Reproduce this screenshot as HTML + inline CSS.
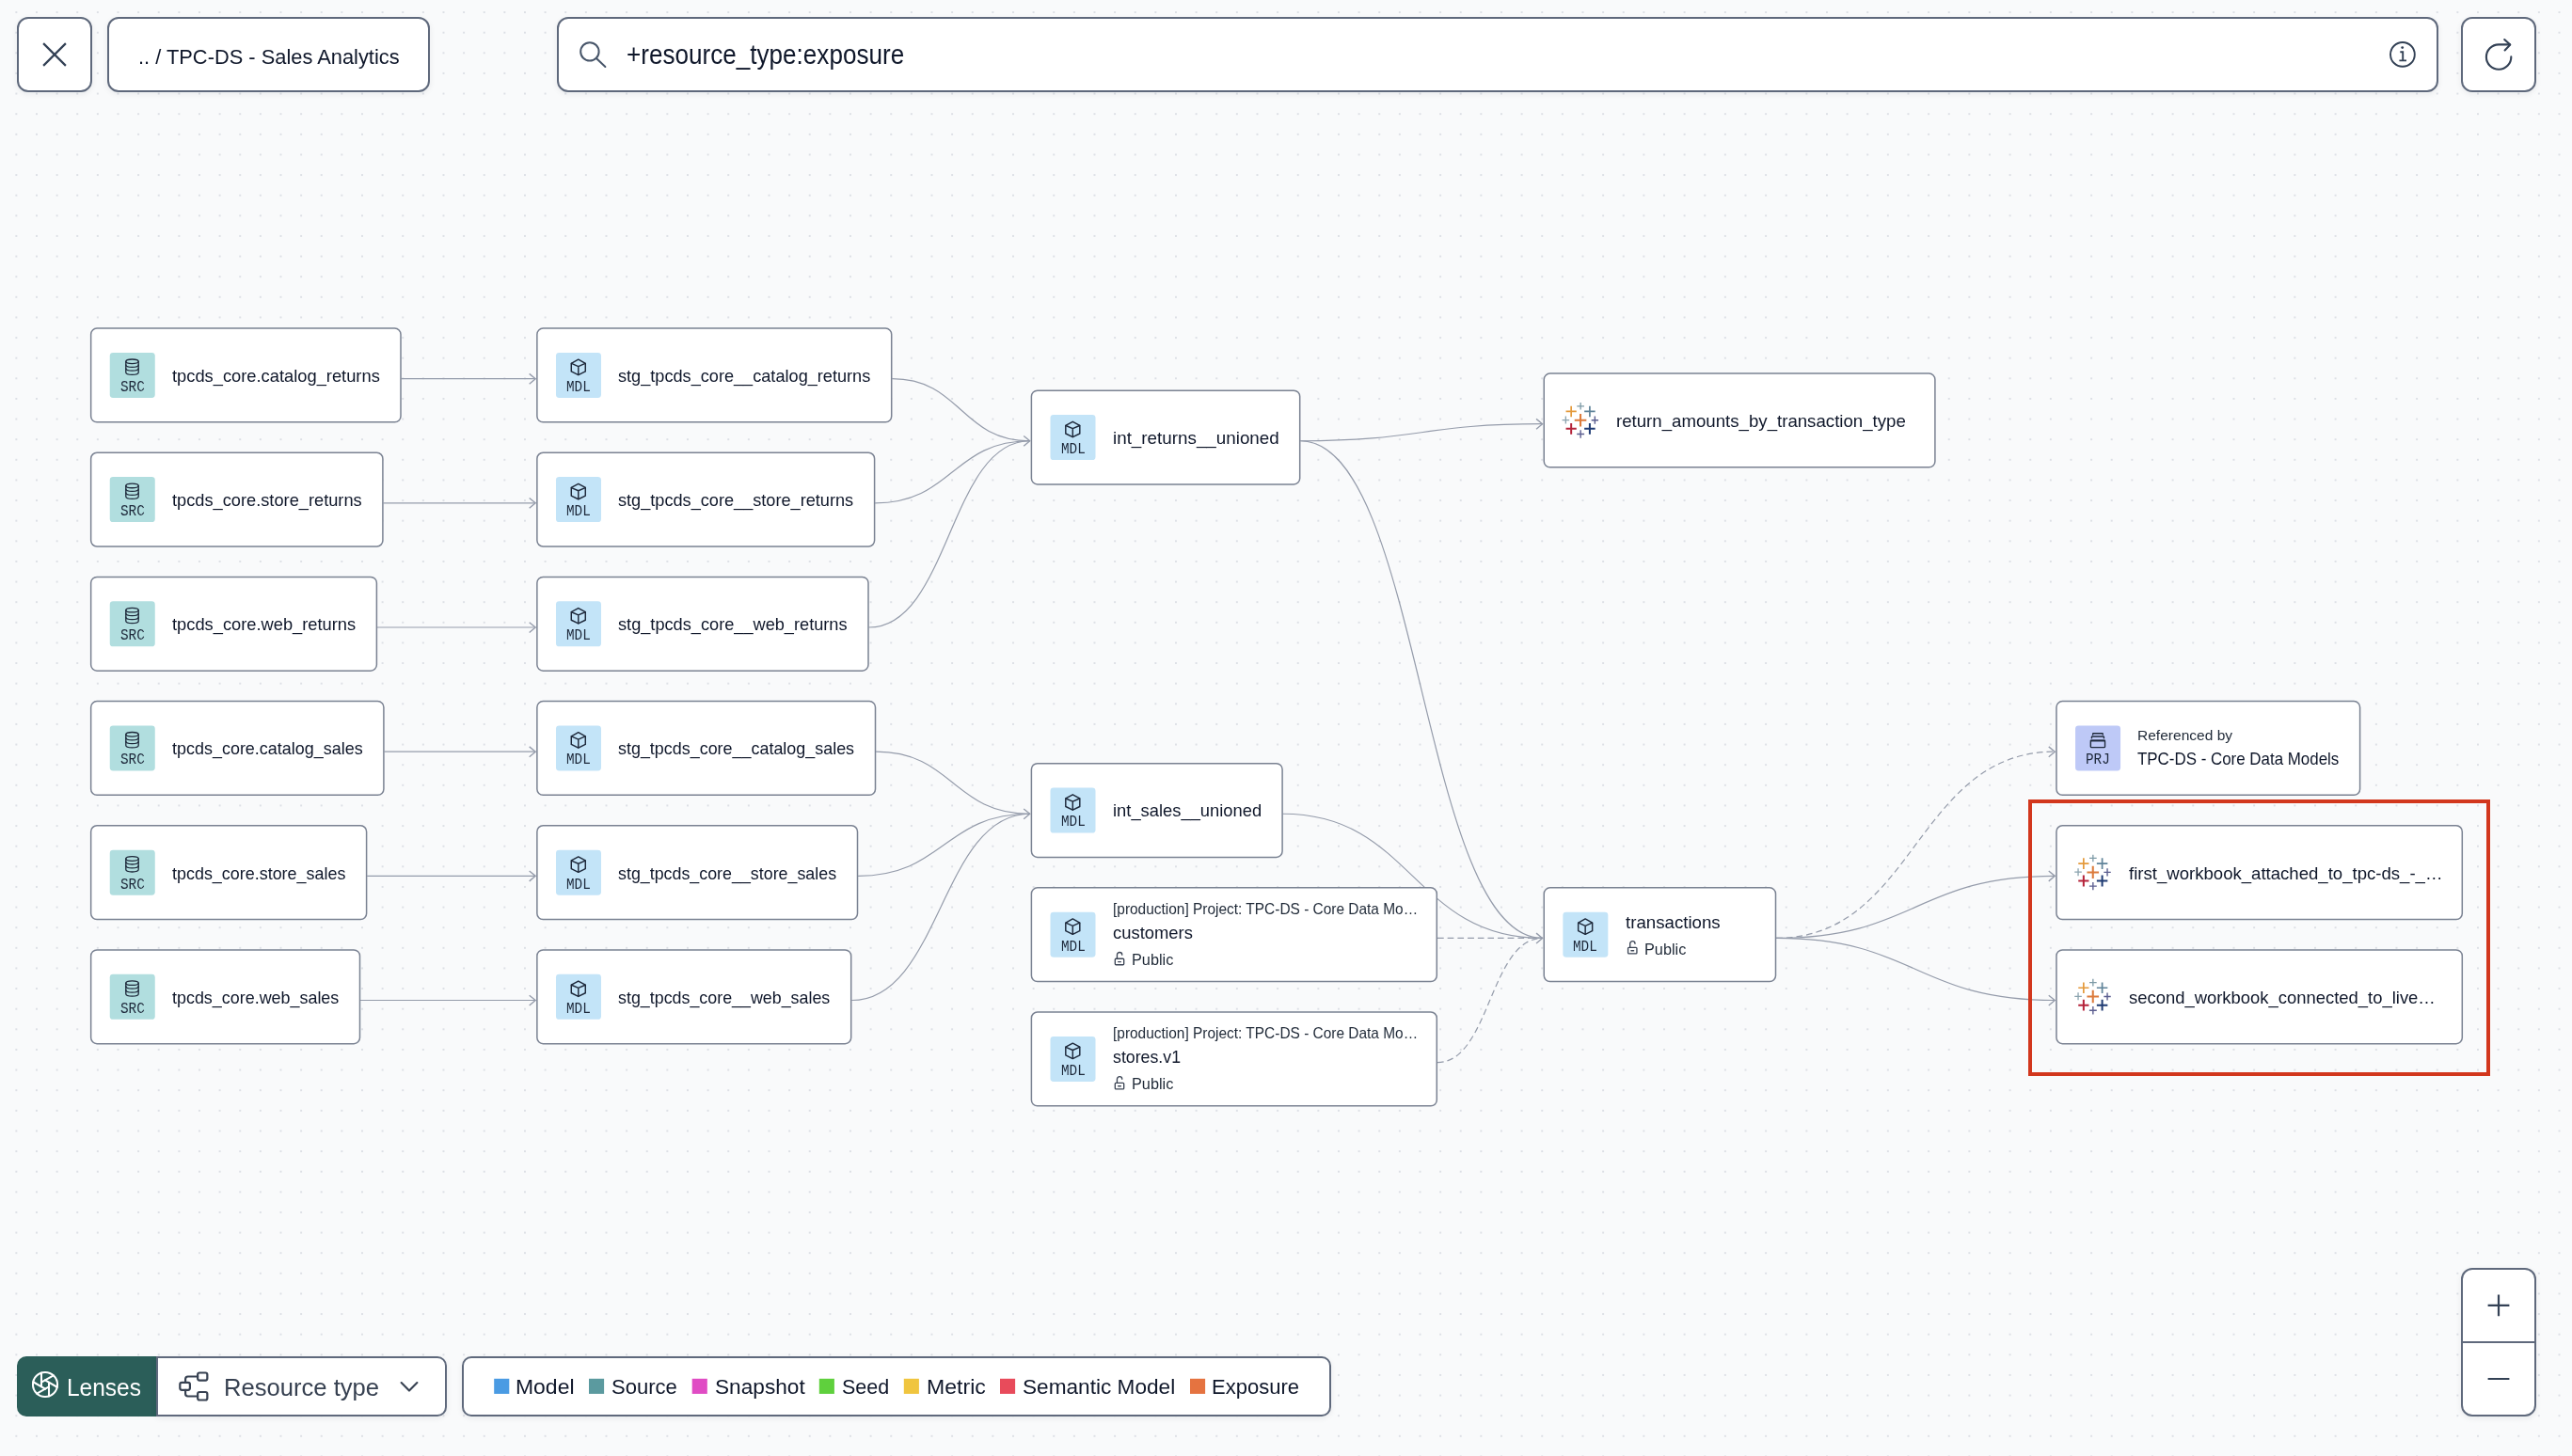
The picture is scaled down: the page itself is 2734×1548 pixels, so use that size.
<!DOCTYPE html><html lang="en"><head><meta charset="utf-8"><title>Lineage - TPC-DS - Sales Analytics</title><style>
html,body{margin:0;padding:0}
body{width:2734px;height:1548px;position:relative;overflow:hidden;background:#f9fafb;font-family:'Liberation Sans', sans-serif}
.full{position:absolute;left:0;top:0}
.layer{position:absolute;left:0;top:0;width:2734px;height:1548px;will-change:transform}
.t{position:absolute;white-space:nowrap;transform-origin:0 50%;display:block}
.tb{position:absolute;box-sizing:border-box;background:#fff;border:2px solid #5f697c;border-radius:12px;box-shadow:0 2px 6px rgba(15,23,42,.07)}
.rt{border-radius:0 10px 10px 0}
.lens{position:absolute;background:#2b5e59;border-radius:10px 0 0 10px}
</style></head><body><svg class="full" width="2734" height="1548" viewBox="0 0 2734 1548"><defs><pattern id="dots" x="6.547" y="2.248" width="21.625" height="21.625" patternUnits="userSpaceOnUse"><circle cx="10.812" cy="10.812" r="0.72" fill="#b4b9c4"/></pattern></defs><rect width="2734" height="1548" fill="url(#dots)"/><g fill="none" stroke="#959cab" stroke-width="1.2"><path d="M426.60 402.68 C497.89 402.68 497.89 402.68 569.18 402.68"/><path d="M407.50 534.85 C488.34 534.85 488.34 534.85 569.18 534.85"/><path d="M401.00 667.02 C485.09 667.02 485.09 667.02 569.18 667.02"/><path d="M408.50 799.19 C488.84 799.19 488.84 799.19 569.18 799.19"/><path d="M390.20 931.36 C479.69 931.36 479.69 931.36 569.18 931.36"/><path d="M383.10 1063.52 C476.14 1063.52 476.14 1063.52 569.18 1063.52"/><path d="M948.30 402.68 C1021.50 402.68 1021.50 468.76 1094.70 468.76"/><path d="M930.20 534.85 C1012.45 534.85 1012.45 468.76 1094.70 468.76"/><path d="M923.60 667.02 C1009.15 667.02 1009.15 468.76 1094.70 468.76"/><path d="M931.10 799.19 C1012.90 799.19 1012.90 865.27 1094.70 865.27"/><path d="M912.10 931.36 C1003.40 931.36 1003.40 865.27 1094.70 865.27"/><path d="M905.30 1063.52 C1000.00 1063.52 1000.00 865.27 1094.70 865.27"/><path d="M1382.30 468.76 C1510.92 468.76 1510.92 450.68 1639.55 450.68"/><path d="M1382.30 468.76 C1510.92 468.76 1510.92 997.44 1639.55 997.44"/><path d="M1363.70 865.27 C1501.62 865.27 1501.62 997.44 1639.55 997.44"/><path d="M1527.90 997.44 C1583.72 997.44 1583.72 997.44 1639.55 997.44" stroke-dasharray="6.7 4"/><path d="M1527.90 1129.61 C1583.72 1129.61 1583.72 997.44 1639.55 997.44" stroke-dasharray="6.7 4"/><path d="M1888.10 997.44 C2036.17 997.44 2036.17 799.19 2184.25 799.19" stroke-dasharray="6.7 4"/><path d="M1888.10 997.44 C2036.17 997.44 2036.17 931.36 2184.25 931.36"/><path d="M1888.10 997.44 C2036.17 997.44 2036.17 1063.52 2184.25 1063.52"/><path d="M562.68 397.38 L569.18 402.68 L562.68 408.18" stroke-width="1.35" stroke-linejoin="miter"/><path d="M562.68 529.55 L569.18 534.85 L562.68 540.35" stroke-width="1.35" stroke-linejoin="miter"/><path d="M562.68 661.72 L569.18 667.02 L562.68 672.52" stroke-width="1.35" stroke-linejoin="miter"/><path d="M562.68 793.89 L569.18 799.19 L562.68 804.69" stroke-width="1.35" stroke-linejoin="miter"/><path d="M562.68 926.06 L569.18 931.36 L562.68 936.86" stroke-width="1.35" stroke-linejoin="miter"/><path d="M562.68 1058.22 L569.18 1063.52 L562.68 1069.02" stroke-width="1.35" stroke-linejoin="miter"/><path d="M1088.20 463.46 L1094.70 468.76 L1088.20 474.26" stroke-width="1.35" stroke-linejoin="miter"/><path d="M1088.20 859.97 L1094.70 865.27 L1088.20 870.77" stroke-width="1.35" stroke-linejoin="miter"/><path d="M1633.05 445.38 L1639.55 450.68 L1633.05 456.18" stroke-width="1.35" stroke-linejoin="miter"/><path d="M1633.05 992.14 L1639.55 997.44 L1633.05 1002.94" stroke-width="1.35" stroke-linejoin="miter"/><path d="M2177.75 793.89 L2184.25 799.19 L2177.75 804.69" stroke-width="1.35" stroke-linejoin="miter"/><path d="M2177.75 926.06 L2184.25 931.36 L2177.75 936.86" stroke-width="1.35" stroke-linejoin="miter"/><path d="M2177.75 1058.22 L2184.25 1063.52 L2177.75 1069.02" stroke-width="1.35" stroke-linejoin="miter"/></g><rect x="96.65" y="349.10" width="329.35" height="99.75" rx="6.4" fill="#fff" stroke="#7a8292" stroke-width="1.5"/><rect x="116.75" y="374.95" width="48" height="48" rx="3.4" fill="#b1dedf"/><g transform="translate(140.50 390.40)"><g fill="none" stroke="#1e293b" stroke-width="1.3" stroke-linecap="round"><ellipse cx="0" cy="-6.1" rx="6.7" ry="2.3"/><path d="M-6.7 -6.1 V5.5 C-6.7 6.9 -3.7 7.9 0 7.9 C3.7 7.9 6.7 6.9 6.7 5.5 V-6.1"/><path d="M-6.7 -2.5 C-6.7 -1.1 -3.7 -0.1 0 -0.1 C3.7 -0.1 6.7 -1.1 6.7 -2.5"/><path d="M-6.7 1.4 C-6.7 2.8 -3.7 3.8 0 3.8 C3.7 3.8 6.7 2.8 6.7 1.4"/></g></g><rect x="96.65" y="481.27" width="310.25" height="99.75" rx="6.4" fill="#fff" stroke="#7a8292" stroke-width="1.5"/><rect x="116.75" y="507.12" width="48" height="48" rx="3.4" fill="#b1dedf"/><g transform="translate(140.50 522.57)"><g fill="none" stroke="#1e293b" stroke-width="1.3" stroke-linecap="round"><ellipse cx="0" cy="-6.1" rx="6.7" ry="2.3"/><path d="M-6.7 -6.1 V5.5 C-6.7 6.9 -3.7 7.9 0 7.9 C3.7 7.9 6.7 6.9 6.7 5.5 V-6.1"/><path d="M-6.7 -2.5 C-6.7 -1.1 -3.7 -0.1 0 -0.1 C3.7 -0.1 6.7 -1.1 6.7 -2.5"/><path d="M-6.7 1.4 C-6.7 2.8 -3.7 3.8 0 3.8 C3.7 3.8 6.7 2.8 6.7 1.4"/></g></g><rect x="96.65" y="613.44" width="303.75" height="99.75" rx="6.4" fill="#fff" stroke="#7a8292" stroke-width="1.5"/><rect x="116.75" y="639.29" width="48" height="48" rx="3.4" fill="#b1dedf"/><g transform="translate(140.50 654.74)"><g fill="none" stroke="#1e293b" stroke-width="1.3" stroke-linecap="round"><ellipse cx="0" cy="-6.1" rx="6.7" ry="2.3"/><path d="M-6.7 -6.1 V5.5 C-6.7 6.9 -3.7 7.9 0 7.9 C3.7 7.9 6.7 6.9 6.7 5.5 V-6.1"/><path d="M-6.7 -2.5 C-6.7 -1.1 -3.7 -0.1 0 -0.1 C3.7 -0.1 6.7 -1.1 6.7 -2.5"/><path d="M-6.7 1.4 C-6.7 2.8 -3.7 3.8 0 3.8 C3.7 3.8 6.7 2.8 6.7 1.4"/></g></g><rect x="96.65" y="745.61" width="311.25" height="99.75" rx="6.4" fill="#fff" stroke="#7a8292" stroke-width="1.5"/><rect x="116.75" y="771.46" width="48" height="48" rx="3.4" fill="#b1dedf"/><g transform="translate(140.50 786.91)"><g fill="none" stroke="#1e293b" stroke-width="1.3" stroke-linecap="round"><ellipse cx="0" cy="-6.1" rx="6.7" ry="2.3"/><path d="M-6.7 -6.1 V5.5 C-6.7 6.9 -3.7 7.9 0 7.9 C3.7 7.9 6.7 6.9 6.7 5.5 V-6.1"/><path d="M-6.7 -2.5 C-6.7 -1.1 -3.7 -0.1 0 -0.1 C3.7 -0.1 6.7 -1.1 6.7 -2.5"/><path d="M-6.7 1.4 C-6.7 2.8 -3.7 3.8 0 3.8 C3.7 3.8 6.7 2.8 6.7 1.4"/></g></g><rect x="96.65" y="877.78" width="292.95" height="99.75" rx="6.4" fill="#fff" stroke="#7a8292" stroke-width="1.5"/><rect x="116.75" y="903.63" width="48" height="48" rx="3.4" fill="#b1dedf"/><g transform="translate(140.50 919.08)"><g fill="none" stroke="#1e293b" stroke-width="1.3" stroke-linecap="round"><ellipse cx="0" cy="-6.1" rx="6.7" ry="2.3"/><path d="M-6.7 -6.1 V5.5 C-6.7 6.9 -3.7 7.9 0 7.9 C3.7 7.9 6.7 6.9 6.7 5.5 V-6.1"/><path d="M-6.7 -2.5 C-6.7 -1.1 -3.7 -0.1 0 -0.1 C3.7 -0.1 6.7 -1.1 6.7 -2.5"/><path d="M-6.7 1.4 C-6.7 2.8 -3.7 3.8 0 3.8 C3.7 3.8 6.7 2.8 6.7 1.4"/></g></g><rect x="96.65" y="1009.95" width="285.85" height="99.75" rx="6.4" fill="#fff" stroke="#7a8292" stroke-width="1.5"/><rect x="116.75" y="1035.80" width="48" height="48" rx="3.4" fill="#b1dedf"/><g transform="translate(140.50 1051.25)"><g fill="none" stroke="#1e293b" stroke-width="1.3" stroke-linecap="round"><ellipse cx="0" cy="-6.1" rx="6.7" ry="2.3"/><path d="M-6.7 -6.1 V5.5 C-6.7 6.9 -3.7 7.9 0 7.9 C3.7 7.9 6.7 6.9 6.7 5.5 V-6.1"/><path d="M-6.7 -2.5 C-6.7 -1.1 -3.7 -0.1 0 -0.1 C3.7 -0.1 6.7 -1.1 6.7 -2.5"/><path d="M-6.7 1.4 C-6.7 2.8 -3.7 3.8 0 3.8 C3.7 3.8 6.7 2.8 6.7 1.4"/></g></g><rect x="570.88" y="349.10" width="376.82" height="99.75" rx="6.4" fill="#fff" stroke="#7a8292" stroke-width="1.5"/><rect x="590.98" y="374.95" width="48" height="48" rx="3.4" fill="#c3e4f8"/><g transform="translate(614.78 390.40)"><g fill="none" stroke="#1e293b" stroke-width="1.45" stroke-linejoin="round" stroke-linecap="round"><path d="M0 -8.2 L7.5 -4.1 V4.5 L0 8.2 L-7.5 4.5 V-4.1 Z"/><path d="M-7.3 -4 L0 -0.8 L7.3 -4 M0 -0.8 V8"/></g></g><rect x="570.88" y="481.27" width="358.72" height="99.75" rx="6.4" fill="#fff" stroke="#7a8292" stroke-width="1.5"/><rect x="590.98" y="507.12" width="48" height="48" rx="3.4" fill="#c3e4f8"/><g transform="translate(614.78 522.57)"><g fill="none" stroke="#1e293b" stroke-width="1.45" stroke-linejoin="round" stroke-linecap="round"><path d="M0 -8.2 L7.5 -4.1 V4.5 L0 8.2 L-7.5 4.5 V-4.1 Z"/><path d="M-7.3 -4 L0 -0.8 L7.3 -4 M0 -0.8 V8"/></g></g><rect x="570.88" y="613.44" width="352.12" height="99.75" rx="6.4" fill="#fff" stroke="#7a8292" stroke-width="1.5"/><rect x="590.98" y="639.29" width="48" height="48" rx="3.4" fill="#c3e4f8"/><g transform="translate(614.78 654.74)"><g fill="none" stroke="#1e293b" stroke-width="1.45" stroke-linejoin="round" stroke-linecap="round"><path d="M0 -8.2 L7.5 -4.1 V4.5 L0 8.2 L-7.5 4.5 V-4.1 Z"/><path d="M-7.3 -4 L0 -0.8 L7.3 -4 M0 -0.8 V8"/></g></g><rect x="570.88" y="745.61" width="359.62" height="99.75" rx="6.4" fill="#fff" stroke="#7a8292" stroke-width="1.5"/><rect x="590.98" y="771.46" width="48" height="48" rx="3.4" fill="#c3e4f8"/><g transform="translate(614.78 786.91)"><g fill="none" stroke="#1e293b" stroke-width="1.45" stroke-linejoin="round" stroke-linecap="round"><path d="M0 -8.2 L7.5 -4.1 V4.5 L0 8.2 L-7.5 4.5 V-4.1 Z"/><path d="M-7.3 -4 L0 -0.8 L7.3 -4 M0 -0.8 V8"/></g></g><rect x="570.88" y="877.78" width="340.62" height="99.75" rx="6.4" fill="#fff" stroke="#7a8292" stroke-width="1.5"/><rect x="590.98" y="903.63" width="48" height="48" rx="3.4" fill="#c3e4f8"/><g transform="translate(614.78 919.08)"><g fill="none" stroke="#1e293b" stroke-width="1.45" stroke-linejoin="round" stroke-linecap="round"><path d="M0 -8.2 L7.5 -4.1 V4.5 L0 8.2 L-7.5 4.5 V-4.1 Z"/><path d="M-7.3 -4 L0 -0.8 L7.3 -4 M0 -0.8 V8"/></g></g><rect x="570.88" y="1009.95" width="333.82" height="99.75" rx="6.4" fill="#fff" stroke="#7a8292" stroke-width="1.5"/><rect x="590.98" y="1035.80" width="48" height="48" rx="3.4" fill="#c3e4f8"/><g transform="translate(614.78 1051.25)"><g fill="none" stroke="#1e293b" stroke-width="1.45" stroke-linejoin="round" stroke-linecap="round"><path d="M0 -8.2 L7.5 -4.1 V4.5 L0 8.2 L-7.5 4.5 V-4.1 Z"/><path d="M-7.3 -4 L0 -0.8 L7.3 -4 M0 -0.8 V8"/></g></g><rect x="1096.40" y="415.19" width="285.30" height="99.75" rx="6.4" fill="#fff" stroke="#7a8292" stroke-width="1.5"/><rect x="1116.50" y="441.04" width="48" height="48" rx="3.4" fill="#c3e4f8"/><g transform="translate(1140.30 456.49)"><g fill="none" stroke="#1e293b" stroke-width="1.45" stroke-linejoin="round" stroke-linecap="round"><path d="M0 -8.2 L7.5 -4.1 V4.5 L0 8.2 L-7.5 4.5 V-4.1 Z"/><path d="M-7.3 -4 L0 -0.8 L7.3 -4 M0 -0.8 V8"/></g></g><rect x="1096.40" y="811.69" width="266.70" height="99.75" rx="6.4" fill="#fff" stroke="#7a8292" stroke-width="1.5"/><rect x="1116.50" y="837.54" width="48" height="48" rx="3.4" fill="#c3e4f8"/><g transform="translate(1140.30 853.00)"><g fill="none" stroke="#1e293b" stroke-width="1.45" stroke-linejoin="round" stroke-linecap="round"><path d="M0 -8.2 L7.5 -4.1 V4.5 L0 8.2 L-7.5 4.5 V-4.1 Z"/><path d="M-7.3 -4 L0 -0.8 L7.3 -4 M0 -0.8 V8"/></g></g><rect x="1096.40" y="943.87" width="430.90" height="99.75" rx="6.4" fill="#fff" stroke="#7a8292" stroke-width="1.5"/><rect x="1116.50" y="969.72" width="48" height="48" rx="3.4" fill="#c3e4f8"/><g transform="translate(1140.30 985.17)"><g fill="none" stroke="#1e293b" stroke-width="1.45" stroke-linejoin="round" stroke-linecap="round"><path d="M0 -8.2 L7.5 -4.1 V4.5 L0 8.2 L-7.5 4.5 V-4.1 Z"/><path d="M-7.3 -4 L0 -0.8 L7.3 -4 M0 -0.8 V8"/></g></g><g transform="translate(1184.65 1018.57)"><g fill="none" stroke="#3d4656" stroke-width="1.35" stroke-linecap="round" stroke-linejoin="round"><rect x="0.68" y="0.68" width="9.35" height="6.45" rx="0.9"/><path d="M2.8 0.3 V-3.4 A2.65 2.65 0 0 1 8.1 -3.4"/><path d="M4.0 4.05 H6.7"/></g></g><rect x="1096.40" y="1076.03" width="430.90" height="99.75" rx="6.4" fill="#fff" stroke="#7a8292" stroke-width="1.5"/><rect x="1116.50" y="1101.88" width="48" height="48" rx="3.4" fill="#c3e4f8"/><g transform="translate(1140.30 1117.33)"><g fill="none" stroke="#1e293b" stroke-width="1.45" stroke-linejoin="round" stroke-linecap="round"><path d="M0 -8.2 L7.5 -4.1 V4.5 L0 8.2 L-7.5 4.5 V-4.1 Z"/><path d="M-7.3 -4 L0 -0.8 L7.3 -4 M0 -0.8 V8"/></g></g><g transform="translate(1184.65 1150.73)"><g fill="none" stroke="#3d4656" stroke-width="1.35" stroke-linecap="round" stroke-linejoin="round"><rect x="0.68" y="0.68" width="9.35" height="6.45" rx="0.9"/><path d="M2.8 0.3 V-3.4 A2.65 2.65 0 0 1 8.1 -3.4"/><path d="M4.0 4.05 H6.7"/></g></g><rect x="1641.25" y="943.87" width="246.25" height="99.75" rx="6.4" fill="#fff" stroke="#7a8292" stroke-width="1.5"/><rect x="1661.35" y="969.72" width="48" height="48" rx="3.4" fill="#c3e4f8"/><g transform="translate(1685.15 985.17)"><g fill="none" stroke="#1e293b" stroke-width="1.45" stroke-linejoin="round" stroke-linecap="round"><path d="M0 -8.2 L7.5 -4.1 V4.5 L0 8.2 L-7.5 4.5 V-4.1 Z"/><path d="M-7.3 -4 L0 -0.8 L7.3 -4 M0 -0.8 V8"/></g></g><g transform="translate(1729.90 1006.72)"><g fill="none" stroke="#3d4656" stroke-width="1.35" stroke-linecap="round" stroke-linejoin="round"><rect x="0.68" y="0.68" width="9.35" height="6.45" rx="0.9"/><path d="M2.8 0.3 V-3.4 A2.65 2.65 0 0 1 8.1 -3.4"/><path d="M4.0 4.05 H6.7"/></g></g><rect x="1641.25" y="397.10" width="415.65" height="99.75" rx="6.4" fill="#fff" stroke="#7a8292" stroke-width="1.5"/><g transform="translate(1680.05 446.73)"><g fill="none"><path d="M-6.3 0 H6.3 M0 -6.7 V6.7" stroke="#dc7b3c" stroke-width="2.05"/><path d="M-15.5 -9.3 H-4.3 M-9.9 -15.1 V-3.5" stroke="#e49a3c" stroke-width="1.7"/><path d="M4.1 -9.3 H15.6 M9.85 -15.1 V-3.5" stroke="#5f8399" stroke-width="1.7"/><path d="M-15.5 9.1 H-4.3 M-9.9 3.2 V15" stroke="#b5233a" stroke-width="2"/><path d="M4.1 9.1 H15.6 M9.85 3.2 V15" stroke="#1f3b73" stroke-width="2"/><path d="M-3.75 -14.95 H3.95 M0.1 -18.75 V-11.15" stroke="#7d9aa6" stroke-width="1.3"/><path d="M-3.85 14.7 H4.05 M0.1 10.5 V18.9" stroke="#5d5f91" stroke-width="1.4"/><path d="M-19.5 -0.2 H-11.9 M-15.7 -4.2 V3.8" stroke="#8aa3ae" stroke-width="1.3"/><path d="M11.6 -0.05 H19 M15.3 -4.15 V4.05" stroke="#5a5d8f" stroke-width="1.4"/></g></g><rect x="2185.95" y="745.61" width="322.65" height="99.75" rx="6.4" fill="#fff" stroke="#7a8292" stroke-width="1.5"/><rect x="2206.05" y="771.46" width="48" height="48" rx="3.4" fill="#bec9f7"/><g transform="translate(2229.95 771.46)"><g fill="none" stroke="#1e293b" stroke-width="1.4" stroke-linecap="round" stroke-linejoin="round"><path d="M-5.3 9.6 V8.9 Q-5.3 8.3 -4.7 8.3 H4.7 Q5.3 8.3 5.3 8.9 V9.6"/><path d="M-6.5 13.4 V12.3 Q-6.5 11.6 -5.8 11.6 H5.8 Q6.5 11.6 6.5 12.3 V13.4"/><rect x="-7.6" y="16" width="15.2" height="7.2" rx="1"/><path d="M-7.4 15.9 H7.4" stroke-width="1.7"/></g></g><rect x="2185.95" y="877.78" width="431.35" height="99.75" rx="6.4" fill="#fff" stroke="#7a8292" stroke-width="1.5"/><g transform="translate(2224.75 927.40)"><g fill="none"><path d="M-6.3 0 H6.3 M0 -6.7 V6.7" stroke="#dc7b3c" stroke-width="2.05"/><path d="M-15.5 -9.3 H-4.3 M-9.9 -15.1 V-3.5" stroke="#e49a3c" stroke-width="1.7"/><path d="M4.1 -9.3 H15.6 M9.85 -15.1 V-3.5" stroke="#5f8399" stroke-width="1.7"/><path d="M-15.5 9.1 H-4.3 M-9.9 3.2 V15" stroke="#b5233a" stroke-width="2"/><path d="M4.1 9.1 H15.6 M9.85 3.2 V15" stroke="#1f3b73" stroke-width="2"/><path d="M-3.75 -14.95 H3.95 M0.1 -18.75 V-11.15" stroke="#7d9aa6" stroke-width="1.3"/><path d="M-3.85 14.7 H4.05 M0.1 10.5 V18.9" stroke="#5d5f91" stroke-width="1.4"/><path d="M-19.5 -0.2 H-11.9 M-15.7 -4.2 V3.8" stroke="#8aa3ae" stroke-width="1.3"/><path d="M11.6 -0.05 H19 M15.3 -4.15 V4.05" stroke="#5a5d8f" stroke-width="1.4"/></g></g><rect x="2185.95" y="1009.95" width="431.35" height="99.75" rx="6.4" fill="#fff" stroke="#7a8292" stroke-width="1.5"/><g transform="translate(2224.75 1059.57)"><g fill="none"><path d="M-6.3 0 H6.3 M0 -6.7 V6.7" stroke="#dc7b3c" stroke-width="2.05"/><path d="M-15.5 -9.3 H-4.3 M-9.9 -15.1 V-3.5" stroke="#e49a3c" stroke-width="1.7"/><path d="M4.1 -9.3 H15.6 M9.85 -15.1 V-3.5" stroke="#5f8399" stroke-width="1.7"/><path d="M-15.5 9.1 H-4.3 M-9.9 3.2 V15" stroke="#b5233a" stroke-width="2"/><path d="M4.1 9.1 H15.6 M9.85 3.2 V15" stroke="#1f3b73" stroke-width="2"/><path d="M-3.75 -14.95 H3.95 M0.1 -18.75 V-11.15" stroke="#7d9aa6" stroke-width="1.3"/><path d="M-3.85 14.7 H4.05 M0.1 10.5 V18.9" stroke="#5d5f91" stroke-width="1.4"/><path d="M-19.5 -0.2 H-11.9 M-15.7 -4.2 V3.8" stroke="#8aa3ae" stroke-width="1.3"/><path d="M11.6 -0.05 H19 M15.3 -4.15 V4.05" stroke="#5a5d8f" stroke-width="1.4"/></g></g></svg><div class="layer"><span class="t" style="left:127.85px;top:403px;line-height:18px;font-size:16.00px;font-family:'Liberation Mono', monospace;color:#1e293b;transform:scaleX(0.8954)">SRC</span><span class="t" style="left:183.10px;top:390px;line-height:20px;font-size:18.20px;font-family:'Liberation Sans', sans-serif;color:#0f172a;transform:scaleX(1.0064)">tpcds_core.catalog_returns</span><span class="t" style="left:127.85px;top:535px;line-height:18px;font-size:16.00px;font-family:'Liberation Mono', monospace;color:#1e293b;transform:scaleX(0.8954)">SRC</span><span class="t" style="left:183.10px;top:522px;line-height:20px;font-size:18.20px;font-family:'Liberation Sans', sans-serif;color:#0f172a;transform:scaleX(1.0025)">tpcds_core.store_returns</span><span class="t" style="left:127.85px;top:667px;line-height:18px;font-size:16.00px;font-family:'Liberation Mono', monospace;color:#1e293b;transform:scaleX(0.8954)">SRC</span><span class="t" style="left:183.10px;top:654px;line-height:20px;font-size:18.20px;font-family:'Liberation Sans', sans-serif;color:#0f172a;transform:scaleX(1.0056)">tpcds_core.web_returns</span><span class="t" style="left:127.85px;top:799px;line-height:18px;font-size:16.00px;font-family:'Liberation Mono', monospace;color:#1e293b;transform:scaleX(0.8954)">SRC</span><span class="t" style="left:183.10px;top:786px;line-height:20px;font-size:18.20px;font-family:'Liberation Sans', sans-serif;color:#0f172a;transform:scaleX(0.9876)">tpcds_core.catalog_sales</span><span class="t" style="left:127.85px;top:932px;line-height:18px;font-size:16.00px;font-family:'Liberation Mono', monospace;color:#1e293b;transform:scaleX(0.8954)">SRC</span><span class="t" style="left:183.10px;top:919px;line-height:20px;font-size:18.20px;font-family:'Liberation Sans', sans-serif;color:#0f172a;transform:scaleX(0.9859)">tpcds_core.store_sales</span><span class="t" style="left:127.85px;top:1064px;line-height:18px;font-size:16.00px;font-family:'Liberation Mono', monospace;color:#1e293b;transform:scaleX(0.8954)">SRC</span><span class="t" style="left:183.10px;top:1051px;line-height:20px;font-size:18.20px;font-family:'Liberation Sans', sans-serif;color:#0f172a;transform:scaleX(0.9852)">tpcds_core.web_sales</span><span class="t" style="left:602.08px;top:403px;line-height:18px;font-size:16.00px;font-family:'Liberation Mono', monospace;color:#1e293b;transform:scaleX(0.8954)">MDL</span><span class="t" style="left:657.33px;top:390px;line-height:20px;font-size:18.20px;font-family:'Liberation Sans', sans-serif;color:#0f172a;transform:scaleX(0.9975)">stg_tpcds_core__catalog_returns</span><span class="t" style="left:602.08px;top:535px;line-height:18px;font-size:16.00px;font-family:'Liberation Mono', monospace;color:#1e293b;transform:scaleX(0.8954)">MDL</span><span class="t" style="left:657.33px;top:522px;line-height:20px;font-size:18.20px;font-family:'Liberation Sans', sans-serif;color:#0f172a;transform:scaleX(0.9977)">stg_tpcds_core__store_returns</span><span class="t" style="left:602.08px;top:667px;line-height:18px;font-size:16.00px;font-family:'Liberation Mono', monospace;color:#1e293b;transform:scaleX(0.8954)">MDL</span><span class="t" style="left:657.33px;top:654px;line-height:20px;font-size:18.20px;font-family:'Liberation Sans', sans-serif;color:#0f172a;transform:scaleX(0.9996)">stg_tpcds_core__web_returns</span><span class="t" style="left:602.08px;top:799px;line-height:18px;font-size:16.00px;font-family:'Liberation Mono', monospace;color:#1e293b;transform:scaleX(0.8954)">MDL</span><span class="t" style="left:657.33px;top:786px;line-height:20px;font-size:18.20px;font-family:'Liberation Sans', sans-serif;color:#0f172a;transform:scaleX(0.9854)">stg_tpcds_core__catalog_sales</span><span class="t" style="left:602.08px;top:932px;line-height:18px;font-size:16.00px;font-family:'Liberation Mono', monospace;color:#1e293b;transform:scaleX(0.8954)">MDL</span><span class="t" style="left:657.33px;top:919px;line-height:20px;font-size:18.20px;font-family:'Liberation Sans', sans-serif;color:#0f172a;transform:scaleX(0.9809)">stg_tpcds_core__store_sales</span><span class="t" style="left:602.08px;top:1064px;line-height:18px;font-size:16.00px;font-family:'Liberation Mono', monospace;color:#1e293b;transform:scaleX(0.8954)">MDL</span><span class="t" style="left:657.33px;top:1051px;line-height:20px;font-size:18.20px;font-family:'Liberation Sans', sans-serif;color:#0f172a;transform:scaleX(0.9815)">stg_tpcds_core__web_sales</span><span class="t" style="left:1127.60px;top:469px;line-height:18px;font-size:16.00px;font-family:'Liberation Mono', monospace;color:#1e293b;transform:scaleX(0.8954)">MDL</span><span class="t" style="left:1182.85px;top:456px;line-height:20px;font-size:18.20px;font-family:'Liberation Sans', sans-serif;color:#0f172a;transform:scaleX(1.0343)">int_returns__unioned</span><span class="t" style="left:1127.60px;top:865px;line-height:18px;font-size:16.00px;font-family:'Liberation Mono', monospace;color:#1e293b;transform:scaleX(0.8954)">MDL</span><span class="t" style="left:1182.85px;top:852px;line-height:20px;font-size:18.20px;font-family:'Liberation Sans', sans-serif;color:#0f172a;transform:scaleX(1.0089)">int_sales__unioned</span><span class="t" style="left:1127.60px;top:998px;line-height:18px;font-size:16.00px;font-family:'Liberation Mono', monospace;color:#1e293b;transform:scaleX(0.8954)">MDL</span><span class="t" style="left:1182.85px;top:957px;line-height:18px;font-size:16.40px;font-family:'Liberation Sans', sans-serif;color:#1f2937;transform:scaleX(0.9422)">[production] Project: TPC-DS - Core Data Mo…</span><span class="t" style="left:1182.85px;top:982px;line-height:20px;font-size:18.20px;font-family:'Liberation Sans', sans-serif;color:#0f172a;transform:scaleX(1.0114)">customers</span><span class="t" style="left:1202.65px;top:1012px;line-height:17px;font-size:16.00px;font-family:'Liberation Sans', sans-serif;color:#1f2937;transform:scaleX(1.0166)">Public</span><span class="t" style="left:1127.60px;top:1130px;line-height:18px;font-size:16.00px;font-family:'Liberation Mono', monospace;color:#1e293b;transform:scaleX(0.8954)">MDL</span><span class="t" style="left:1182.85px;top:1089px;line-height:18px;font-size:16.40px;font-family:'Liberation Sans', sans-serif;color:#1f2937;transform:scaleX(0.9422)">[production] Project: TPC-DS - Core Data Mo…</span><span class="t" style="left:1182.85px;top:1114px;line-height:20px;font-size:18.20px;font-family:'Liberation Sans', sans-serif;color:#0f172a;transform:scaleX(0.9763)">stores.v1</span><span class="t" style="left:1202.65px;top:1144px;line-height:17px;font-size:16.00px;font-family:'Liberation Sans', sans-serif;color:#1f2937;transform:scaleX(1.0166)">Public</span><span class="t" style="left:1672.45px;top:998px;line-height:18px;font-size:16.00px;font-family:'Liberation Mono', monospace;color:#1e293b;transform:scaleX(0.8954)">MDL</span><span class="t" style="left:1727.70px;top:971px;line-height:20px;font-size:18.20px;font-family:'Liberation Sans', sans-serif;color:#0f172a;transform:scaleX(1.0269)">transactions</span><span class="t" style="left:1747.70px;top:1001px;line-height:17px;font-size:16.00px;font-family:'Liberation Sans', sans-serif;color:#1f2937;transform:scaleX(1.0166)">Public</span><span class="t" style="left:1717.80px;top:438px;line-height:20px;font-size:18.20px;font-family:'Liberation Sans', sans-serif;color:#0f172a;transform:scaleX(1.0250)">return_amounts_by_transaction_type</span><span class="t" style="left:2217.15px;top:799px;line-height:18px;font-size:16.00px;font-family:'Liberation Mono', monospace;color:#1e293b;transform:scaleX(0.8954)">PRJ</span><span class="t" style="left:2272.40px;top:773px;line-height:17px;font-size:15.40px;font-family:'Liberation Sans', sans-serif;color:#1f2937;transform:scaleX(1.0099)">Referenced by</span><span class="t" style="left:2272.40px;top:797px;line-height:20px;font-size:18.20px;font-family:'Liberation Sans', sans-serif;color:#0f172a;transform:scaleX(0.9300)">TPC-DS - Core Data Models</span><span class="t" style="left:2262.50px;top:919px;line-height:20px;font-size:18.20px;font-family:'Liberation Sans', sans-serif;color:#0f172a;transform:scaleX(1.0213)">first_workbook_attached_to_tpc-ds_-_…</span><span class="t" style="left:2262.50px;top:1051px;line-height:20px;font-size:18.20px;font-family:'Liberation Sans', sans-serif;color:#0f172a;transform:scaleX(1.0133)">second_workbook_connected_to_live…</span></div><div class="tb" style="left:18px;top:18px;width:80px;height:80px"></div><div class="tb" style="left:114px;top:18px;width:343px;height:80px"></div><div class="tb" style="left:592px;top:18px;width:2000px;height:80px"></div><div class="tb" style="left:2616px;top:18px;width:80px;height:80px"></div><div class="lens" style="left:18px;top:1442px;width:150px;height:64px"></div><div class="tb rt" style="left:166px;top:1442px;width:309px;height:64px"></div><div class="tb" style="left:491px;top:1442px;width:924px;height:64px;border-radius:10px"></div><div class="tb" style="left:2616px;top:1348px;width:80px;height:158px"></div><svg class="full" width="2734" height="1548" viewBox="0 0 2734 1548"><path d="M46.1 46.1 L69.9 69.9 M69.9 46.1 L46.1 69.9" stroke="#334155" stroke-width="2.2" fill="none"/><g fill="none" stroke="#475569" stroke-width="2"><circle cx="626.9" cy="54.9" r="9.7"/><path d="M633.9 62 L643.4 71" stroke-linecap="round"/></g><g transform="translate(2536.00 40.00)"><g fill="none" stroke="#334155" stroke-width="1.9"><circle cx="17.9" cy="17.9" r="12.9"/><path d="M15.3 15.2 H18.2 V24.3 M14.4 24.4 H22"/><circle cx="17.7" cy="10.6" r="1.4" fill="#334155" stroke="none"/></g></g><g transform="translate(2636.00 38.00)"><g fill="none" stroke="#334155" stroke-width="2.1" stroke-linecap="round" stroke-linejoin="round"><path d="M33.3 22.4 A13.2 13.2 0 1 1 20 9.4 H32"/><path d="M26.2 4 L32.3 9.6 L26.6 15.4"/></g></g><g transform="translate(48.00 1472.00)"><g fill="none" stroke="#fff" stroke-width="2.05" stroke-linecap="round"><circle cx="0" cy="0" r="13.05"/><path d="M-4.00 -12.42 L-4.00 2.31"/><path d="M8.76 -9.68 L-4.00 -2.31"/><path d="M12.76 2.75 L-0.00 -4.62"/><path d="M4.00 12.42 L4.00 -2.31"/><path d="M-8.76 9.68 L4.00 2.31"/><path d="M-12.76 -2.75 L-0.00 4.62"/></g></g><g fill="none" stroke="#374151" stroke-width="2.2" stroke-linejoin="round" stroke-linecap="round"><rect x="191.3" y="1469.8" width="10.6" height="8.05" rx="2"/><rect x="210.15" y="1459.5" width="10.2" height="8.05" rx="2"/><rect x="210.15" y="1480.0" width="10.2" height="8.5" rx="2"/><path d="M197.1 1469.8 V1466.2 Q197.1 1463.5 199.8 1463.5 H210.1 M197.1 1477.9 V1481.8 Q197.1 1484.5 199.8 1484.5 H210.1"/></g><path d="M426.6 1470.0 L435 1478.6 L443.4 1470.0" fill="none" stroke="#374151" stroke-width="2.1" stroke-linecap="round" stroke-linejoin="round"/><rect x="525.2" y="1465.8" width="16.1" height="16.1" fill="#4a9be3"/><rect x="626.0" y="1465.8" width="16.1" height="16.1" fill="#5b9a9f"/><rect x="735.7" y="1465.8" width="16.1" height="16.1" fill="#e04cc4"/><rect x="870.8" y="1465.8" width="16.1" height="16.1" fill="#5fd03d"/><rect x="960.8" y="1465.8" width="16.1" height="16.1" fill="#f0c53f"/><rect x="1063.0" y="1465.8" width="16.1" height="16.1" fill="#e84b5b"/><rect x="1265.0" y="1465.8" width="16.1" height="16.1" fill="#e57340"/><path d="M2617 1427 H2695" stroke="#5f697c" stroke-width="2" fill="none"/><path d="M2644.6 1387.8 H2667.4 M2656 1376.4 V1399.2 M2644.6 1466 H2667.4" stroke="#334155" stroke-width="2.2" fill="none"/><rect x="2158" y="852" width="487" height="290" fill="none" stroke="#d2371d" stroke-width="4"/></svg><div class="layer"><span class="t" style="left:147.40px;top:48px;line-height:25px;font-size:22.60px;font-family:'Liberation Sans', sans-serif;color:#0f172a;transform:scaleX(0.9668)">.. / TPC-DS - Sales Analytics</span><span class="t" style="left:665.60px;top:42px;line-height:32px;font-size:28.60px;font-family:'Liberation Sans', sans-serif;color:#0f172a;transform:scaleX(0.9126)">+resource_type:exposure</span><span class="t" style="left:70.75px;top:1461px;line-height:28px;font-size:25.80px;font-family:'Liberation Sans', sans-serif;color:#ffffff;transform:scaleX(0.9495)">Lenses</span><span class="t" style="left:237.80px;top:1461px;line-height:28px;font-size:25.80px;font-family:'Liberation Sans', sans-serif;color:#374151;transform:scaleX(0.9925)">Resource type</span><span class="t" style="left:548.40px;top:1462px;line-height:25px;font-size:22.60px;font-family:'Liberation Sans', sans-serif;color:#0f172a;transform:scaleX(1.0155)">Model</span><span class="t" style="left:650.00px;top:1462px;line-height:25px;font-size:22.60px;font-family:'Liberation Sans', sans-serif;color:#0f172a;transform:scaleX(0.9763)">Source</span><span class="t" style="left:759.70px;top:1462px;line-height:25px;font-size:22.60px;font-family:'Liberation Sans', sans-serif;color:#0f172a;transform:scaleX(1.0023)">Snapshot</span><span class="t" style="left:894.80px;top:1462px;line-height:25px;font-size:22.60px;font-family:'Liberation Sans', sans-serif;color:#0f172a;transform:scaleX(0.9511)">Seed</span><span class="t" style="left:984.80px;top:1462px;line-height:25px;font-size:22.60px;font-family:'Liberation Sans', sans-serif;color:#0f172a;transform:scaleX(1.0209)">Metric</span><span class="t" style="left:1087.00px;top:1462px;line-height:25px;font-size:22.60px;font-family:'Liberation Sans', sans-serif;color:#0f172a;transform:scaleX(1.0012)">Semantic Model</span><span class="t" style="left:1288.30px;top:1462px;line-height:25px;font-size:22.60px;font-family:'Liberation Sans', sans-serif;color:#0f172a;transform:scaleX(0.9743)">Exposure</span></div></body></html>
